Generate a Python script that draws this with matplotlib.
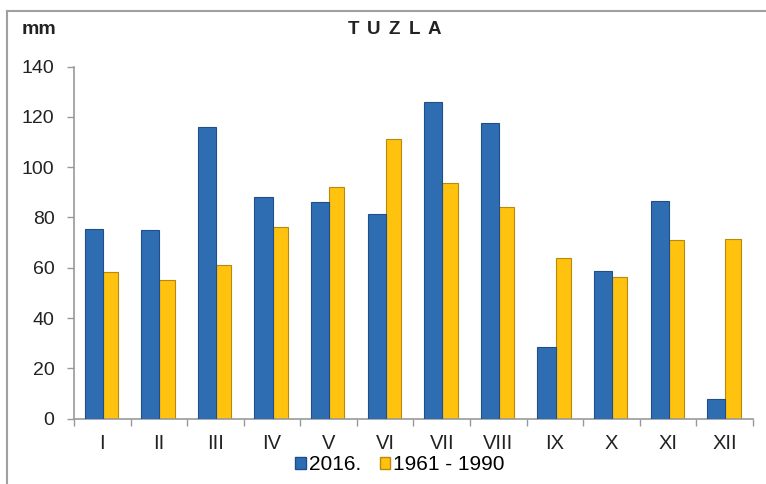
import numpy as np
import matplotlib
matplotlib.use("Agg")
import matplotlib.pyplot as plt
from matplotlib.lines import Line2D
from matplotlib.patches import Patch

plt.rcParams["font.family"] = ["Liberation Sans", "DejaVu Sans"]

months = ["I", "II", "III", "IV", "V", "VI", "VII", "VIII", "IX", "X", "XI", "XII"]
rain_2016 = [75.5, 75, 116, 88, 86, 81.5, 126, 117.5, 28.5, 58.8, 86.5, 7.8]
rain_norm = [58.5, 55, 61, 76, 92, 111, 93.5, 84, 64, 56.3, 71, 71.5]
title = "TUZLA"

BLUE = "#2F6DB3"
BLUE_EDGE = "#1F4F8A"
YELLOW = "#FFC20E"
YELLOW_EDGE = "#B8890A"

fig = plt.figure(figsize=(7.66, 4.84), dpi=100)
ax = fig.add_axes([0.0966, 0.135, 0.983 - 0.0966, 0.8626 - 0.135])

x = np.arange(len(months))
ax.bar(x + 0.19, rain_2016, width=0.32, align="edge", color=BLUE,
       edgecolor=BLUE_EDGE, linewidth=0.8, zorder=3)
ax.bar(x + 0.51, rain_norm, width=0.27, align="edge", color=YELLOW,
       edgecolor=YELLOW_EDGE, linewidth=0.8, zorder=2)

ax.set_xlim(0, 12)
ax.set_ylim(0, 140)
ax.set_yticks(np.arange(0, 141, 20))
ax.set_xticks(x + 0.5)
ax.set_xticklabels(months)
ax.set_xticks(np.arange(0, 13), minor=True)
ax.tick_params(axis="x", which="major", length=0, pad=11, labelsize=14.5, labelcolor="#222222")
ax.tick_params(axis="x", which="minor", length=5, color="#999999", width=1)
ax.tick_params(axis="y", length=5, color="#999999", width=1, labelsize=14,
               labelcolor="#222222", pad=9)
for s in ("top", "right"):
    ax.spines[s].set_visible(False)
for s in ("left", "bottom"):
    ax.spines[s].set_color("#999999")
    ax.spines[s].set_linewidth(1.2)

fig.text(22 / 766, 1 - 29 / 484, "mm", fontsize=14, fontweight="bold",
         va="center", ha="left", color="#222222")
# letter-spaced title
for i, ch in enumerate(title):
    fig.text((354 + i * 20) / 766, 1 - 29 / 484, ch, fontsize=13.5, fontweight="bold",
             va="center", ha="center", color="#222222")

handles = [Patch(facecolor=BLUE, edgecolor=BLUE_EDGE), Patch(facecolor=YELLOW, edgecolor=YELLOW_EDGE)]
fig.legend(handles, ["2016.", "1961 - 1990"], loc="center", bbox_to_anchor=(400 / 766, 1 - 465 / 484),
           ncol=2, frameon=False, fontsize=15, handlelength=0.5, handleheight=0.5,
           handletextpad=0.15, columnspacing=0.9, borderpad=0)

# outer frame (top and left edges visible)
fig.add_artist(Line2D([7 / 766, 1], [1 - 11 / 484, 1 - 11 / 484], transform=fig.transFigure,
                      color="#A0A0A0", lw=1.5))
fig.add_artist(Line2D([7 / 766, 7 / 766], [0, 1 - 11 / 484], transform=fig.transFigure,
                      color="#A0A0A0", lw=1.5))

fig.savefig("out.png", dpi=100)
